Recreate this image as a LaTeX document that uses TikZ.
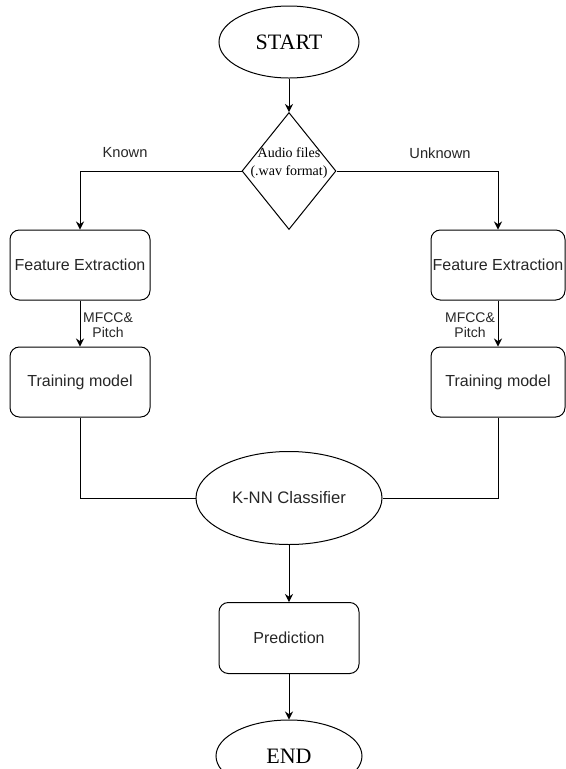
\documentclass[tikz,border=0pt]{standalone}
\usepackage{fontspec}
\setmainfont{Liberation Sans}
\newfontfamily\serifface{Liberation Serif}
\usetikzlibrary{shapes.geometric,arrows.meta}

\begin{document}
\begin{tikzpicture}[x=0.75pt,y=-0.75pt,line width=0.75pt,
  every node/.style={inner sep=0pt},
  term/.style={ellipse,draw,font=\serifface\fontsize{16.5}{18}\selectfont},
  proc/.style={rectangle,rounded corners=7pt,draw,minimum width=105pt,
    minimum height=52.5pt,text=black!85,font=\fontsize{12}{14}\selectfont},
  lbl/.style={text=black!85,font=\fontsize{11}{13}\selectfont},
  arr/.style={-{Stealth[length=6pt,width=6pt]}}]
  \useasboundingbox (0,0) rectangle (566,769);

  \node[term,minimum width=105pt,minimum height=54pt] (start) at (289,42) {START};

  \node[diamond,draw,minimum width=70.5pt,minimum height=87.75pt] (audio) at (289,171) {};
  \node[font=\serifface\fontsize{10.5}{14}\selectfont,align=center] (audiotxt) at (289,163) {Audio files\\(.wav format)};
  \draw[arr] (start) to (audio);

  \node[lbl] (known) at (125,153) {Known};
  \node[lbl] (unknown) at (440,153) {Unknown};

  \node[proc] (fe1) at (80,265) {Feature Extraction};
  \node[proc,minimum width=100.5pt] (fe2) at (498,265) {Feature Extraction};
  \draw[arr] (audio.west) -| (fe1);
  \draw[arr] (audio.east) -| (fe2);

  \node[lbl,font=\fontsize{10.5}{11.5}\selectfont,align=center] (mfcc1) at (108,325) {MFCC\&\\Pitch};
  \node[lbl,font=\fontsize{10.5}{11.5}\selectfont,align=center] (mfcc2) at (470,325) {MFCC\&\\Pitch};

  \node[proc] (tm1) at (80,382) {Training model};
  \node[proc,minimum width=100.5pt] (tm2) at (498,382) {Training model};
  \draw[arr] (fe1) to (tm1);
  \draw[arr] (fe2) to (tm2);

  \node[ellipse,draw,minimum width=139.5pt,minimum height=69.75pt,text=black!85,
    font=\fontsize{12.5}{14}\selectfont] (knn) at (289,498) {K-NN Classifier};
  \draw (tm1) |- (knn.west);
  \draw (tm2) |- (knn.east);

  \node[proc,minimum height=53.25pt] (pred) at (289,638) {Prediction};
  \draw[arr] (knn) to (pred);

  \node[term,minimum width=109.5pt,minimum height=54pt] (stop) at (289,756) {END};
  \draw[arr] (pred) to (stop);
\end{tikzpicture}
\end{document}
